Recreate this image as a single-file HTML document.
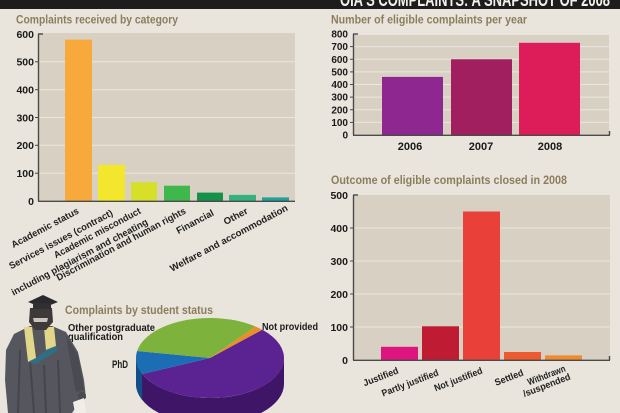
<!DOCTYPE html>
<html><head><meta charset="utf-8"><style>
html,body{margin:0;padding:0;background:#e9e5dc;}
svg{display:block;}
text{font-family:"Liberation Sans",Arial,sans-serif;font-weight:bold;}
</style></head><body>
<svg width="620" height="413" viewBox="0 0 620 413" xmlns="http://www.w3.org/2000/svg">
<rect x="0" y="0" width="620" height="413" fill="#e9e5dc"/>
<!-- header -->
<rect x="0" y="0" width="620" height="9" fill="#1e1c1c"/>
<text x="340" y="6" font-size="18" fill="#f2f0ea" textLength="270" lengthAdjust="spacingAndGlyphs">OIA'S COMPLAINTS: A SNAPSHOT OF 2008</text>

<!-- ============ Left chart ============ -->
<text x="16" y="23.5" font-size="12" fill="#8c7d5c" textLength="162" lengthAdjust="spacingAndGlyphs">Complaints received by category</text>
<rect x="38" y="33" width="257" height="168" fill="#d8d0c3"/>
<g stroke="#ebe6de" stroke-width="1">
<line x1="38" y1="173.2" x2="295" y2="173.2"/>
<line x1="38" y1="145.3" x2="295" y2="145.3"/>
<line x1="38" y1="117.5" x2="295" y2="117.5"/>
<line x1="38" y1="89.7" x2="295" y2="89.7"/>
<line x1="38" y1="61.8" x2="295" y2="61.8"/>
</g>
<rect x="65" y="39.6" width="27" height="161.4" fill="#f7a93b"/>
<rect x="98" y="164.8" width="27" height="36.2" fill="#f3e72e"/>
<rect x="131" y="182.1" width="26" height="18.9" fill="#d6df2a"/>
<rect x="164" y="185.7" width="26" height="15.3" fill="#3fb74a"/>
<rect x="197" y="192.6" width="26" height="8.4" fill="#14924a"/>
<rect x="229" y="194.9" width="27" height="6.1" fill="#34b27c"/>
<rect x="262" y="197.4" width="27" height="3.6" fill="#1fa09a"/>
<g stroke="#4a4a4a" stroke-width="1.4" fill="none">
<line x1="38.5" y1="34" x2="38.5" y2="201"/>
<line x1="38" y1="201.3" x2="295" y2="201.3"/>
<line x1="38" y1="34" x2="43" y2="34"/>
</g>
<g stroke="#4a4a4a" stroke-width="1">
<line x1="35" y1="173.2" x2="38" y2="173.2"/>
<line x1="35" y1="145.3" x2="38" y2="145.3"/>
<line x1="35" y1="117.5" x2="38" y2="117.5"/>
<line x1="35" y1="89.7" x2="38" y2="89.7"/>
<line x1="35" y1="61.8" x2="38" y2="61.8"/>
</g>
<g font-size="10.5" fill="#1a1a1a" text-anchor="end">
<text x="34" y="205">0</text>
<text x="34" y="177">100</text>
<text x="34" y="149">200</text>
<text x="34" y="121.5">300</text>
<text x="34" y="93.5">400</text>
<text x="34" y="65.5">500</text>
<text x="34" y="38">600</text>
</g>
<g font-size="9.5" fill="#1f1f1f" text-anchor="end">
<text transform="translate(78,210) rotate(-28)" dy="3.3" textLength="75" lengthAdjust="spacingAndGlyphs">Academic status</text>
<text transform="translate(112,212) rotate(-28)" dy="3.3" textLength="116" lengthAdjust="spacingAndGlyphs">Services issues (contract)</text>
<text transform="translate(140,210) rotate(-28)" dy="3.3" textLength="97" lengthAdjust="spacingAndGlyphs">Academic misconduct</text>
<text transform="translate(147,221) rotate(-28)" dy="3.3" textLength="153" lengthAdjust="spacingAndGlyphs">including plagiarism and cheating</text>
<text transform="translate(185,210) rotate(-28)" dy="3.3" textLength="145" lengthAdjust="spacingAndGlyphs">Discrimination and human rights</text>
<text transform="translate(213,212) rotate(-28)" dy="3.3" textLength="41" lengthAdjust="spacingAndGlyphs">Financial</text>
<text transform="translate(247,210) rotate(-28)" dy="3.3" textLength="26" lengthAdjust="spacingAndGlyphs">Other</text>
<text transform="translate(287,207) rotate(-28)" dy="3.3" textLength="132" lengthAdjust="spacingAndGlyphs">Welfare and accommodation</text>
</g>

<!-- ============ Right top chart ============ -->
<text x="331" y="23.5" font-size="12" fill="#8c7d5c" textLength="196" lengthAdjust="spacingAndGlyphs">Number of eligible complaints per year</text>
<rect x="353" y="35" width="256" height="100" fill="#d8d0c3"/>
<g stroke="#ebe6de" stroke-width="1">
<line x1="353" y1="122.4" x2="609" y2="122.4"/>
<line x1="353" y1="109.75" x2="609" y2="109.75"/>
<line x1="353" y1="97.1" x2="609" y2="97.1"/>
<line x1="353" y1="84.5" x2="609" y2="84.5"/>
<line x1="353" y1="71.9" x2="609" y2="71.9"/>
<line x1="353" y1="59.25" x2="609" y2="59.25"/>
<line x1="353" y1="46.6" x2="609" y2="46.6"/>
</g>
<rect x="382" y="76.9" width="61" height="58.1" fill="#8e2790"/>
<rect x="451" y="59.25" width="61" height="75.75" fill="#a21f5f"/>
<rect x="519" y="42.8" width="61" height="92.2" fill="#dd1c5a"/>
<g stroke="#4a4a4a" stroke-width="1.4" fill="none">
<line x1="353.5" y1="34" x2="353.5" y2="135"/>
<line x1="353" y1="135.3" x2="610" y2="135.3"/>
<line x1="353" y1="34" x2="358" y2="34"/>
<line x1="609.5" y1="131" x2="609.5" y2="135"/>
</g>
<g stroke="#4a4a4a" stroke-width="1">
<line x1="350" y1="122.4" x2="353" y2="122.4"/>
<line x1="350" y1="109.75" x2="353" y2="109.75"/>
<line x1="350" y1="97.1" x2="353" y2="97.1"/>
<line x1="350" y1="84.5" x2="353" y2="84.5"/>
<line x1="350" y1="71.9" x2="353" y2="71.9"/>
<line x1="350" y1="59.25" x2="353" y2="59.25"/>
<line x1="350" y1="46.6" x2="353" y2="46.6"/>
</g>
<g font-size="10" fill="#1a1a1a" text-anchor="end">
<text x="348" y="138.5">0</text>
<text x="348" y="126">100</text>
<text x="348" y="113.3">200</text>
<text x="348" y="100.6">300</text>
<text x="348" y="88">400</text>
<text x="348" y="75.4">500</text>
<text x="348" y="62.8">600</text>
<text x="348" y="50.1">700</text>
<text x="348" y="37.5">800</text>
</g>
<g font-size="11" fill="#1a1a1a" text-anchor="middle">
<text x="410" y="150">2006</text>
<text x="481" y="150">2007</text>
<text x="550" y="150">2008</text>
</g>

<!-- ============ Right bottom chart ============ -->
<text x="331" y="184" font-size="12" fill="#8c7d5c" textLength="236" lengthAdjust="spacingAndGlyphs">Outcome of eligible complaints closed in 2008</text>
<rect x="353" y="195" width="257" height="165" fill="#d8d0c3"/>
<g stroke="#ebe6de" stroke-width="1">
<line x1="353" y1="327" x2="610" y2="327"/>
<line x1="353" y1="294" x2="610" y2="294"/>
<line x1="353" y1="261" x2="610" y2="261"/>
<line x1="353" y1="228" x2="610" y2="228"/>
</g>
<rect x="381" y="346.8" width="37" height="13.2" fill="#e0147e"/>
<rect x="422" y="326.3" width="37" height="33.7" fill="#bf1b33"/>
<rect x="463" y="211.5" width="37" height="148.5" fill="#e9403a"/>
<rect x="504" y="352" width="37" height="8" fill="#ec5a2f"/>
<rect x="545" y="355.4" width="37" height="4.6" fill="#ef8b2f"/>
<g stroke="#4a4a4a" stroke-width="1.4" fill="none">
<line x1="353.5" y1="195" x2="353.5" y2="360"/>
<line x1="353" y1="360.3" x2="610" y2="360.3"/>
<line x1="353" y1="195" x2="358" y2="195"/>
<line x1="609.5" y1="356" x2="609.5" y2="360"/>
</g>
<g stroke="#4a4a4a" stroke-width="1">
<line x1="350" y1="327" x2="353" y2="327"/>
<line x1="350" y1="294" x2="353" y2="294"/>
<line x1="350" y1="261" x2="353" y2="261"/>
<line x1="350" y1="228" x2="353" y2="228"/>
</g>
<g font-size="10.5" fill="#1a1a1a" text-anchor="end">
<text x="348" y="364">0</text>
<text x="348" y="331">100</text>
<text x="348" y="298">200</text>
<text x="348" y="265">300</text>
<text x="348" y="232">400</text>
<text x="348" y="199">500</text>
</g>
<g font-size="9.5" fill="#1f1f1f" text-anchor="end">
<text transform="translate(398,370) rotate(-21)" dy="3.3" textLength="37" lengthAdjust="spacingAndGlyphs">Justified</text>
<text transform="translate(438,372) rotate(-21)" dy="3.3" textLength="60" lengthAdjust="spacingAndGlyphs">Partly justified</text>
<text transform="translate(482,370) rotate(-21)" dy="3.3" textLength="51" lengthAdjust="spacingAndGlyphs">Not justified</text>
<text transform="translate(523,372) rotate(-21)" dy="3.3" textLength="30" lengthAdjust="spacingAndGlyphs">Settled</text>
<text transform="translate(565,368) rotate(-21)" dy="3.3" textLength="40" lengthAdjust="spacingAndGlyphs">Withdrawn</text>
<text transform="translate(570,376) rotate(-21)" dy="3.3" textLength="50" lengthAdjust="spacingAndGlyphs">/suspended</text>
</g>

<!-- ============ Pie ============ -->
<text x="65" y="314" font-size="12" fill="#8c7d5c" textLength="148" lengthAdjust="spacingAndGlyphs">Complaints by student status</text>
<!-- side -->
<path d="M284,358 A74,40 0 0,1 136,358 L136,384 A74,40 0 0,0 284,384 Z" fill="#3e1567"/>
<path d="M142.19,374.01 A74,40 0 0,1 136,358 L136,384 A74,40 0 0,0 142.19,400.01 Z" fill="#134f86"/>
<!-- top -->
<path d="M210,358 L262.33,329.72 A74,40 0 1,1 142.19,374.01 Z" fill="#5a2391"/>
<path d="M210,358 L142.19,374.01 A74,40 0 0,1 137.12,351.05 Z" fill="#1b6db4"/>
<path d="M210,358 L137.12,351.05 A74,40 0 0,1 255.56,326.48 Z" fill="#7db23c"/>
<path d="M210,358 L255.56,326.48 A74,40 0 0,1 262.33,329.72 Z" fill="#e88f2a"/>
<g font-size="10" fill="#1a1a1a">
<text x="68" y="331" textLength="87" lengthAdjust="spacingAndGlyphs">Other postgraduate</text>
<text x="68" y="340" textLength="55" lengthAdjust="spacingAndGlyphs">qualification</text>
<text x="112" y="368" font-size="11" textLength="16" lengthAdjust="spacingAndGlyphs">PhD</text>
<text x="262" y="330" textLength="56" lengthAdjust="spacingAndGlyphs">Not provided</text>
</g>

<!-- ============ Graduate figure ============ -->
<g>
<path d="M14,334 L30,326 L52,326 L66,332 L78,352 L84,380 L86,398 L78,404 L72,413 L8,413 L5,380 L6,350 Z" fill="#56565e"/>
<path d="M30,360 L34,413 M44,365 L46,413 M58,360 L60,413 M20,350 L18,413" stroke="#45454c" stroke-width="2"/>
<path d="M66,335 L78,355 L84,390 L76,392 L70,360 Z" fill="#4a4a52"/>
<path d="M24,327 L32,327 L36,358 L28,362 Z" fill="#e2d68a"/>
<path d="M44,327 L54,327 L56,346 L46,350 Z" fill="#e2d68a"/>
<path d="M28,362 L36,358 L46,350 L56,346 L58,350 L36,364 Z" fill="#2f6f85"/>
<path d="M30,308 L52,308 L53,322 L46,330 L35,330 L29,322 Z" fill="#3e3a3a"/>
<path d="M33,318 L48,318 L47,322 L34,322 Z" fill="#c9c4bd"/>
<path d="M28,302 L43,295 L58,302 L43,308 Z" fill="#2a2a2e"/>
<rect x="33" y="303" width="18" height="6" fill="#2f2f34"/>
<ellipse cx="82" cy="396" rx="4" ry="4" fill="#4a4a50"/>
<path d="M73,402 L84,398 L86,413 L75,413 Z" fill="#f1eee8"/>
</g>
</svg>
</body></html>
